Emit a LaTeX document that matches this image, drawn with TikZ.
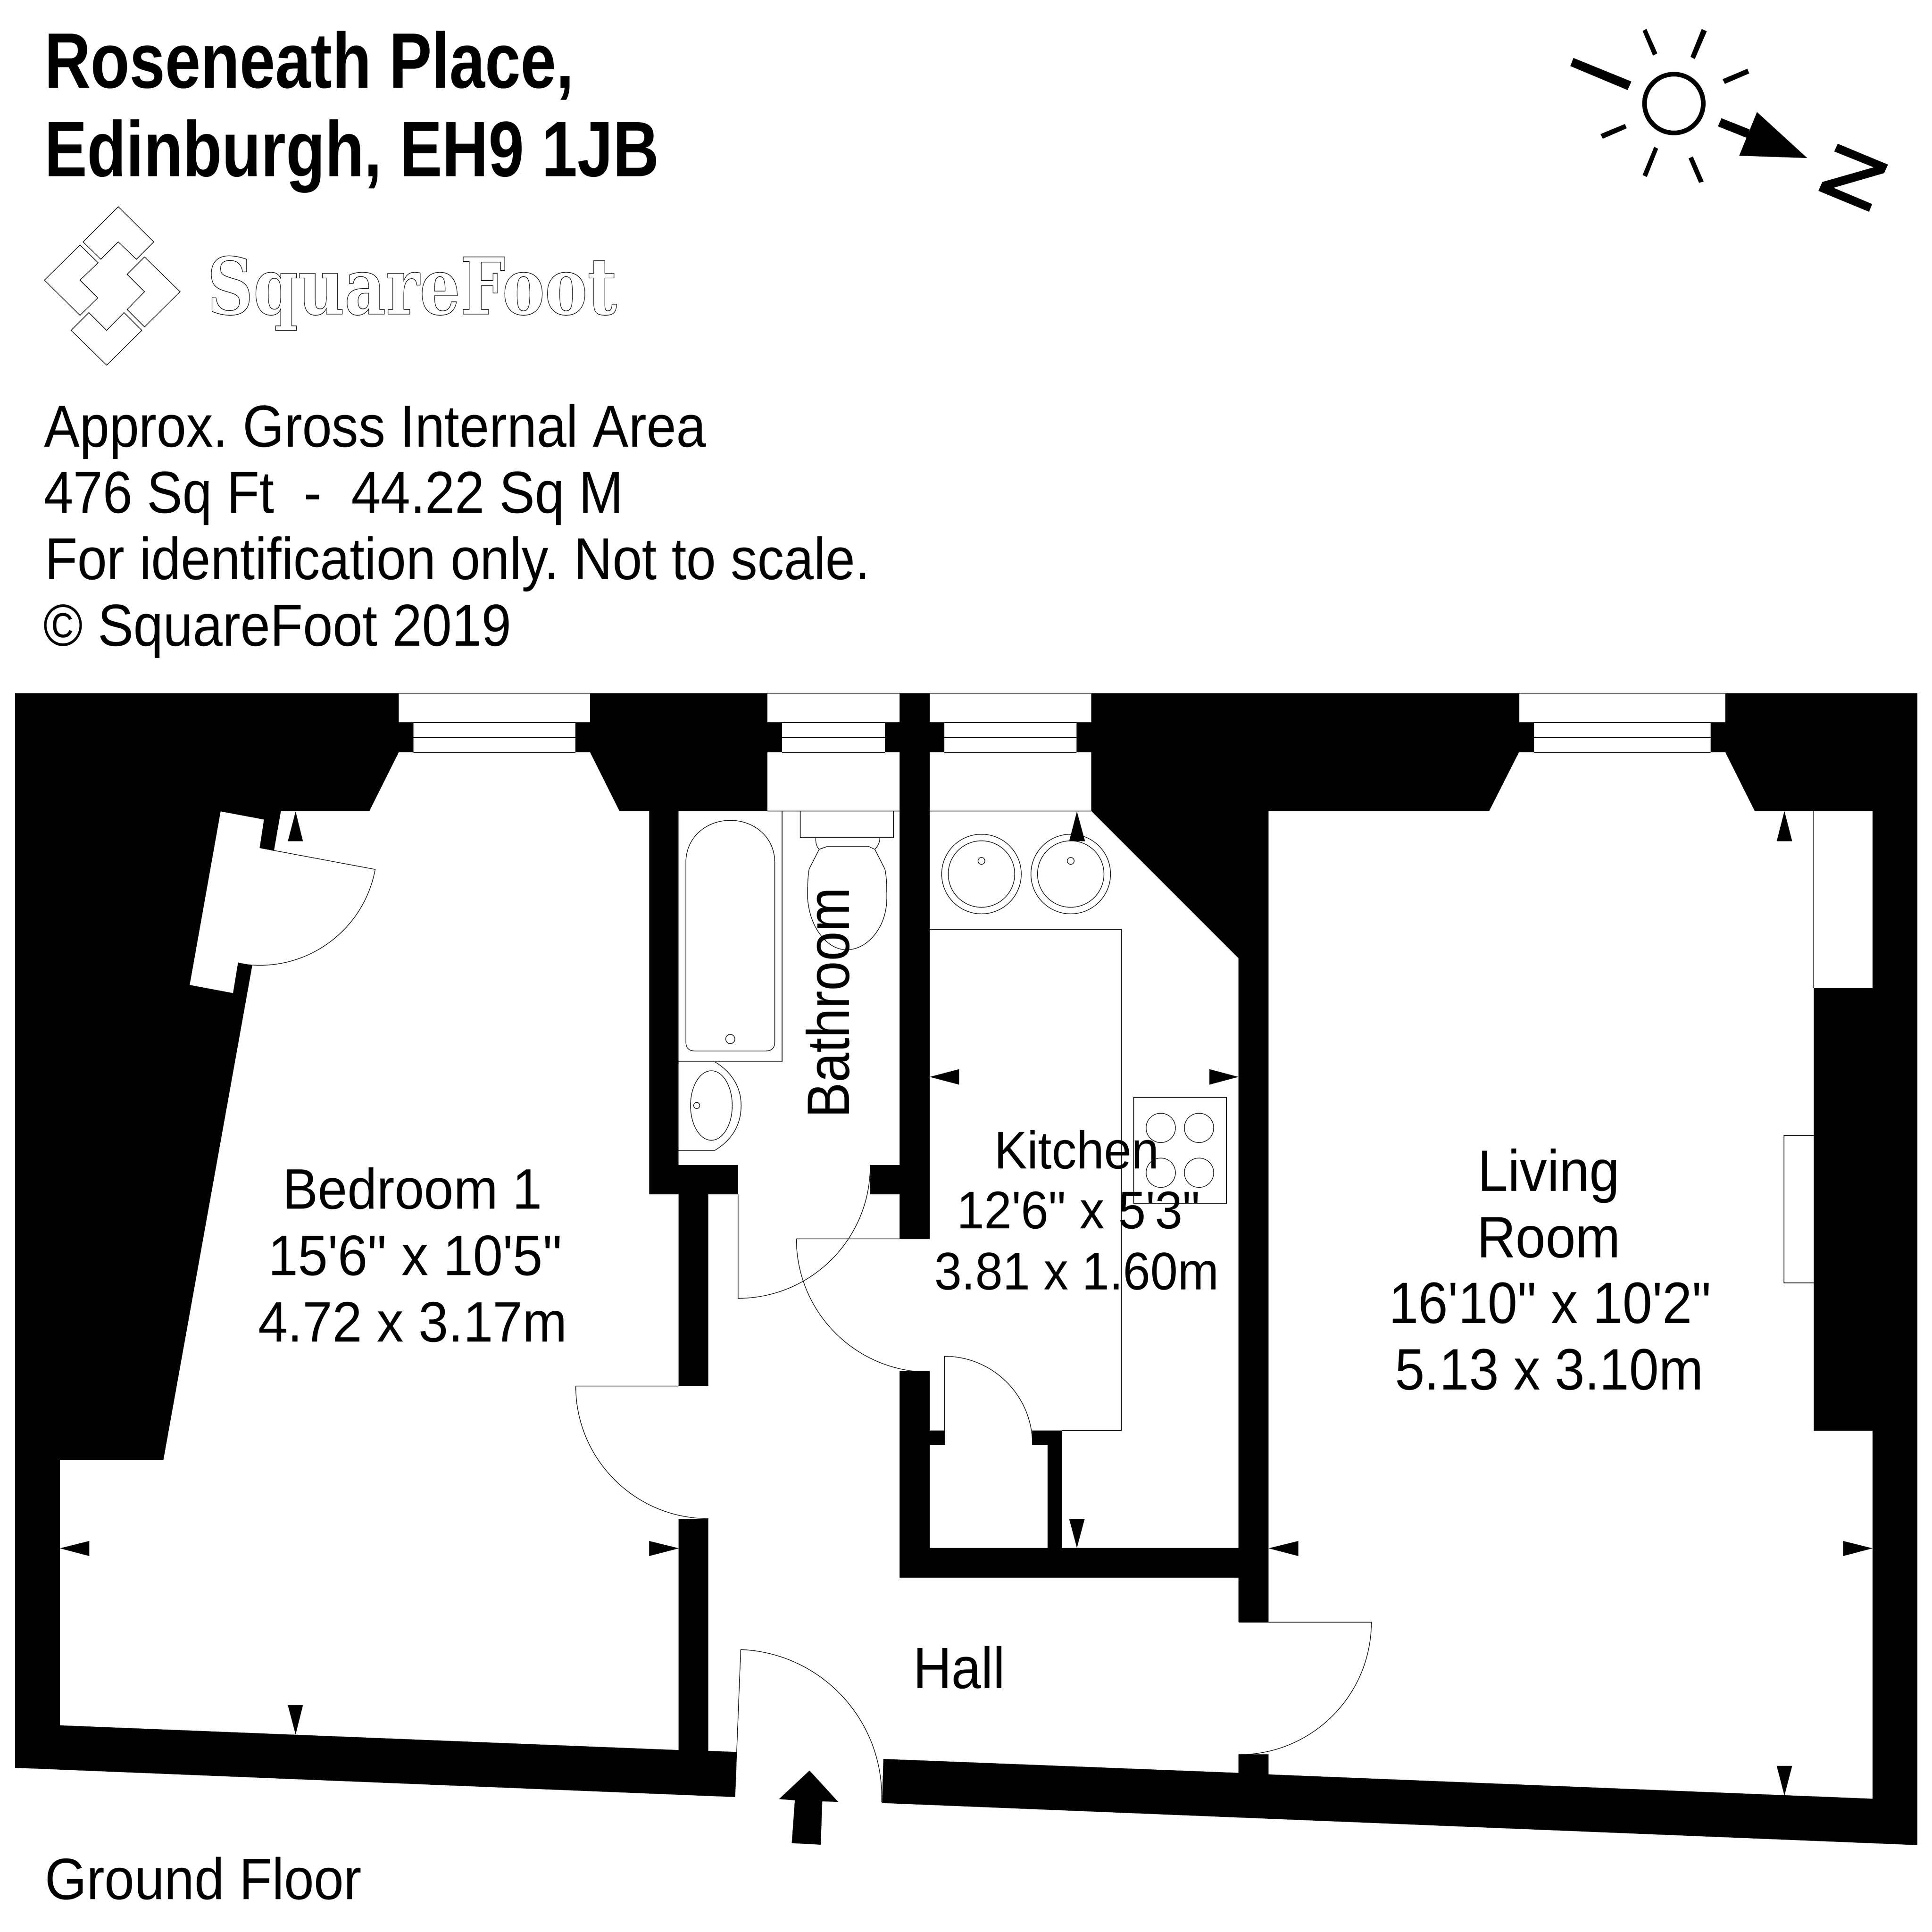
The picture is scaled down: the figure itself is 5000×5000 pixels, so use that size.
\documentclass[tikz,border=0pt]{standalone}
\usepackage{fontspec}
\usepackage{graphicx}
\frenchspacing
\newfontfamily\lf{Liberation Sans}
\newfontfamily\lfb{Liberation Sans Bold}
\newfontfamily\logofont{DejaVu Serif Bold}
\tikzset{
  txt/.style={anchor=base west,inner sep=0pt,outer sep=0pt,font=\lf},
  thinline/.style={draw=black,line width=0.42pt},
  hole/.style={fill=white,draw=none},
  solid fill/.style={fill=black,draw=none},
}
\newcommand\lbl[6]{\node[txt] (#1) at (#2,#3) {\fontsize{#5}{#5}\selectfont\resizebox{#4}{\height}{#6}};}
\begin{document}
\begin{tikzpicture}[x=0.01cm,y=-0.01cm]
\useasboundingbox (0,0) rectangle (5000,5000);
\fill[white] (0,0) rectangle (5000,5000);
% walls
\fill[solid fill] (39,1794) -- (4962,1794) -- (4962,4775) -- (39,4575) -- cycle;
% bedroom
\fill[hole] (727,2099) -- (956,2099) -- (1032,1947) -- (1070,1947) -- (1070,1869) -- (1032,1869) -- (1032,1794) -- (1527,1794) -- (1527,1869) -- (1489,1869) -- (1489,1947) -- (1527,1947) -- (1603,2099) -- (1680,2099) -- (1680,3091) -- (1756,3091) -- (1756,4529) -- (155,4465) -- (155,3778) -- (423,3778) -- (653,2498) -- (616,2491) -- (603,2570) -- (491,2549) -- (571,2100) -- (683,2121) -- (672,2194) -- (709,2202) -- cycle;
% bathroom, kitchen, hall
\fill[hole] (1756,2099) -- (1986,2099) -- (1986,1947) -- (2024,1947) -- (2024,1869) -- (1986,1869) -- (1986,1794) -- (2328,1794) -- (2328,1869) -- (2290,1869) -- (2290,1947) -- (2328,1947) -- (2328,3015) -- (2252,3015) -- (2252,3091) -- (2328,3091) -- (2328,3206) -- (2406,3206) -- (2406,1947) -- (2444,1947) -- (2444,1869) -- (2406,1869) -- (2406,1794) -- (2824,1794) -- (2824,1869) -- (2786,1869) -- (2786,1947) -- (2824,1947) -- (2824,2099) -- (3205,2480) -- (3205,4006) -- (2749,4006) -- (2749,3702) -- (2671,3702) -- (2671,3740) -- (2711,3740) -- (2711,4006) -- (2406,4006) -- (2406,3740) -- (2444,3740) -- (2444,3702) -- (2406,3702) -- (2406,3548) -- (2328,3548) -- (2328,4083) -- (3205,4083) -- (3205,4198) -- (3283,4198) -- (3283,4540) -- (3205,4540) -- (3205,4588) -- (2286,4552) -- (2281,4720) -- (1900,4720) -- (1906,4534) -- (1833,4531) -- (1833,3931) -- (1756,3931) -- (1756,3587) -- (1833,3587) -- (1833,3091) -- (1910,3091) -- (1910,3015) -- (1756,3015) -- cycle;
% living room
\fill[hole] (3283,2099) -- (3854,2099) -- (3931,1947) -- (3970,1947) -- (3970,1869) -- (3932,1869) -- (3932,1794) -- (4465,1794) -- (4465,1869) -- (4427,1869) -- (4427,1947) -- (4465,1947) -- (4541,2099) -- (4846,2099) -- (4846,2557) -- (4694,2557) -- (4694,3703) -- (4846,3703) -- (4846,4655) -- (3283,4592) -- cycle;
% windows
\foreach \a/\b/\c/\d in {1032/1070/1489/1527,1986/2024/2290/2328,2406/2444/2786/2824,3932/3970/4427/4465}{
  \draw[thinline] (\a,1794) -- (\d,1794);
  \draw[thinline] (\b,1870) -- (\c,1870);
  \draw[thinline] (\b,1909) -- (\c,1909);
  \draw[thinline] (\b,1948) -- (\c,1948);
}
\draw[thinline] (1986,2099) -- (2328,2099);
\draw[thinline] (2406,2099) -- (2824,2099);
% doors
\draw[thinline] (672,2194) -- (971,2250) arc[start angle=10.6,end angle=100.6,radius=304];
\draw[thinline] (1756,3587) -- (1490,3587) arc[start angle=180,end angle=90,radius=343];
\draw[thinline] (1910,3091) -- (1910,3360) arc[start angle=90,end angle=0,radius=342];
\draw[thinline] (2406,3206) -- (2061,3206) arc[start angle=180,end angle=90,radius=345];
\draw[thinline] (2444,3740) -- (2444,3510) arc[start angle=-90,end angle=0,radius=228];
\draw[thinline] (3206,4198) -- (3549,4198) arc[start angle=0,end angle=90,radius=343];
\draw[thinline] (1902,4649) -- (1917,4269) arc[start angle=-87.7,end angle=2.3,radius=380];
% bathroom fixtures
\draw[thinline] (1756,2748) -- (2024,2748) -- (2024,2099);
\draw[thinline] (1775,2232) .. controls (1775,2165) and (1830,2123) .. (1890,2123) .. controls (1950,2123) and (2005,2165) .. (2005,2232) -- (2005,2697) .. controls (2005,2712) and (1997,2720) .. (1982,2720) -- (1798,2720) .. controls (1783,2720) and (1775,2712) .. (1775,2697) -- cycle;
\draw[thinline] (1890,2689) circle[radius=12];
\draw[thinline] (1756,2977) -- (1850,2977) .. controls (1895,2950) and (1918,2910) .. (1918,2861) .. controls (1918,2815) and (1895,2775) .. (1850,2748);
\draw[thinline] (1841,2861) ellipse[x radius=54,y radius=90];
\draw[thinline] (1803,2861) circle[radius=8];
\draw[thinline] (2071,2099) rectangle (2312,2168);
\draw[thinline] (2111,2168) .. controls (2111,2180) and (2112,2190) .. (2120,2198) -- (2094,2249) .. controls (2090,2270) and (2090,2300) .. (2090,2324) .. controls (2095,2400) and (2140,2458) .. (2191,2458) .. controls (2245,2458) and (2295,2400) .. (2295,2324) .. controls (2295,2300) and (2295,2270) .. (2290,2249) -- (2264,2198) .. controls (2272,2190) and (2277,2180) .. (2277,2168);
\draw[thinline] (2120,2198) -- (2140,2191) -- (2249,2191) -- (2264,2198);
% kitchen fixtures
\foreach \cx in {2540,2771}{
  \draw[thinline] (\cx,2262) circle[radius=103];
  \draw[thinline] (\cx,2262) circle[radius=86];
  \draw[thinline] (\cx,2228) circle[radius=9];
}
\draw[thinline] (2406,2405) -- (2902,2405) -- (2902,3702) -- (2749,3702);
\draw[thinline] (2934,2840) rectangle (3174,3114);
\foreach \cx/\cy in {3004/2919,3103/2919,3004/3035,3103/3035}{
  \draw[thinline] (\cx,\cy) circle[radius=38];
}
% living room fixtures
\draw[thinline] (4694,2099) -- (4694,2557);
\draw[thinline] (4694,2939) -- (4617,2939) -- (4617,3320) -- (4694,3320);
% measuring marks
\foreach \p in {
 {(765,2100) -- (745,2177) -- (784,2177)},
 {(765,4489) -- (745,4413) -- (784,4413)},
 {(155,4007) -- (231,3988) -- (231,4027)},
 {(1757,4007) -- (1680,3988) -- (1680,4027)},
 {(2787,2100) -- (2767,2177) -- (2808,2177)},
 {(2787,4006) -- (2767,3931) -- (2807,3931)},
 {(2406,2787) -- (2482,2767) -- (2482,2807)},
 {(3205,2787) -- (3130,2767) -- (3130,2807)},
 {(4618,2099) -- (4598,2177) -- (4638,2177)},
 {(4618,4647) -- (4598,4570) -- (4638,4570)},
 {(3283,4007) -- (3360,3988) -- (3360,4027)},
 {(4846,4007) -- (4770,3988) -- (4770,4027)}}{
  \fill[solid fill] \p -- cycle;
}
% entrance arrow
\fill[solid fill] (2095,4582) -- (2169,4663) -- (2128,4662) -- (2124,4774) -- (2049,4770) -- (2057,4659) -- (2016,4656) -- cycle;
% sun and north
\draw[line width=3.4pt,black] (4332,268) circle[radius=76];
\fill[solid fill] (4072,150) -- (4064,171) -- (4212,233) -- (4222,211) -- cycle;
\fill[solid fill] (4261,75) -- (4251,80) -- (4278,144) -- (4289,138) -- cycle;
\fill[solid fill] (4404,75) -- (4417,81) -- (4386,153) -- (4375,147) -- cycle;
\fill[solid fill] (4522,178) -- (4527,190) -- (4464,217) -- (4458,205) -- cycle;
\fill[solid fill] (4205,321) -- (4210,332) -- (4148,359) -- (4142,347) -- cycle;
\fill[solid fill] (4281,380) -- (4291,385) -- (4262,458) -- (4251,453) -- cycle;
\fill[solid fill] (4381,405) -- (4370,410) -- (4397,473) -- (4409,470) -- cycle;
\fill[solid fill] (4455,306) -- (4446,327) -- (4521,357) -- (4528,335) -- cycle;
\fill[solid fill] (4547,290) -- (4501,403) -- (4677,409) -- cycle;
\fill[solid fill] (4756,372) -- (4747,392) -- (4849,433) -- (4716,471) -- (4706,494) -- (4837,548) -- (4845,528) -- (4745,486) -- (4876,448) -- (4886,426) -- cycle;
% logo mark
\draw[thinline] (306,535) -- (398,626) -- (353,671) -- (306,626) -- (261,671) -- (215,626) -- cycle;
\draw[thinline] (207,634) -- (254,680) -- (207,725) -- (253,771) -- (207,816) -- (115,725) -- cycle;
\draw[thinline] (374,665) -- (466,755) -- (374,846) -- (329,801) -- (374,755) -- (329,710) -- cycle;
\draw[thinline] (276,945) -- (367,855) -- (321,809) -- (276,855) -- (230,809) -- (184,855) -- cycle;
\node[txt] (logotext) at (536,813) {\logofont\fontsize{57.8pt}{60pt}\selectfont\resizebox{10.6cm}{\height}{\special{pdf:literal direct 1 Tr 0.42 w}SquareFoot\special{pdf:literal direct 0 Tr}}};
% texts
\lbl{titlea}{115}{228}{13.7cm}{57.8pt}{\lfb Roseneath Place,}
\lbl{titleb}{115}{456}{15.9cm}{57.8pt}{\lfb Edinburgh, EH9 1JB}
\lbl{infoa}{114}{1156}{17.12cm}{43.6pt}{Approx. Gross Internal Area}
\lbl{infob}{113}{1327}{15.0cm}{43.6pt}{476 Sq Ft\ \ -\ \ 44.22 Sq M}
\lbl{infoc}{116}{1499}{21.35cm}{43.6pt}{For identification only. Not to scale.}
\lbl{infod}{113}{1671}{12.1cm}{43.6pt}{© SquareFoot 2019}
\lbl{beda}{731}{3128}{6.72cm}{42pt}{Bedroom 1}
\lbl{bedb}{694}{3300}{7.6cm}{42pt}{15'6" x 10'5"}
\lbl{bedc}{668}{3472}{8.0cm}{42pt}{4.72 x 3.17m}
\lbl{kita}{2573}{3024}{4.26cm}{39pt}{Kitchen}
\lbl{kitb}{2476}{3179}{6.3cm}{39pt}{12'6" x 5'3"}
\lbl{kitc}{2418}{3337}{7.36cm}{39pt}{3.81 x 1.60m}
\lbl{liva}{3824}{3082}{3.68cm}{43pt}{Living}
\lbl{livb}{3822}{3254}{3.72cm}{43pt}{Room}
\lbl{livc}{3594}{3424}{8.34cm}{43pt}{16'10" x 10'2"}
\lbl{livd}{3610}{3596}{7.98cm}{43pt}{5.13 x 3.10m}
\lbl{hall}{2363}{4369}{2.38cm}{43pt}{Hall}
\lbl{ground}{116}{4915}{8.2cm}{43pt}{Ground Floor}
\node[txt,rotate=90] (bath) at (2197,2893) {\fontsize{44pt}{44pt}\selectfont\resizebox{5.96cm}{\height}{Bathroom}};
\end{tikzpicture}
\end{document}
